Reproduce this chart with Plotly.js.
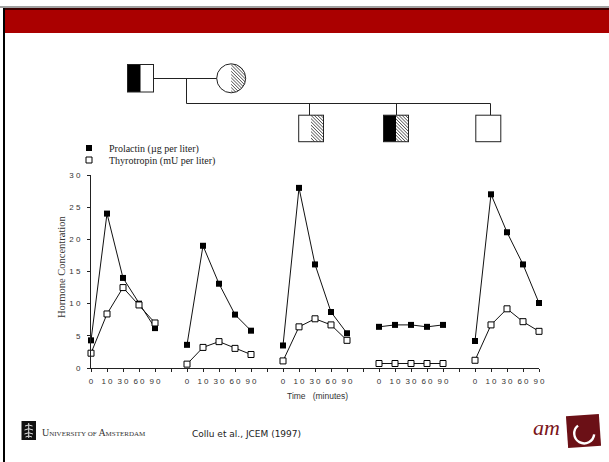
<!DOCTYPE html>
<html>
<head>
<meta charset="utf-8">
<script src="https://cdn.plot.ly/plotly-3.0.1.min.js"></script>
<style>html,body{margin:0;padding:0;background:#fff;}#chart{width:609px;height:462px;}</style>
</head>
<body>
<div id="chart"></div>
<script>
// ---- data ----
var timeLabels = ["0", "1 0", "3 0", "6 0", "9 0"];
var yTickLabels = ["0", "5", "1 0", "1 5", "2 0", "2 5", "3 0"];
var yTickValues = [0, 5, 10, 15, 20, 25, 30];
var prolactin1 = [4.3, 24.0, 14.0, 10.0, 6.2];
var prolactin2 = [3.6, 19.0, 13.1, 8.3, 5.8];
var prolactin3 = [3.5, 28.0, 16.1, 8.7, 5.4];
var prolactin4 = [6.4, 6.7, 6.7, 6.4, 6.7];
var prolactin5 = [4.2, 27.0, 21.1, 16.1, 10.1];
var thyrotropin1 = [2.3, 8.4, 12.5, 9.8, 7.0];
var thyrotropin2 = [0.6, 3.2, 4.1, 3.05, 2.1];
var thyrotropin3 = [1.1, 6.4, 7.65, 6.7, 4.3];
var thyrotropin4 = [0.7, 0.7, 0.7, 0.7, 0.7];
var thyrotropin5 = [1.2, 6.7, 9.2, 7.2, 5.7];
var seriesNames = ["Prolactin (\u00b5g per liter)", "Thyrotropin (mU per liter)"];

var prolactin = [prolactin1, prolactin2, prolactin3, prolactin4, prolactin5];
var thyrotropin = [thyrotropin1, thyrotropin2, thyrotropin3, thyrotropin4, thyrotropin5];

// ---- layout geometry ----
var W = 609, H = 462;
var M = {l: 91, r: 70, t: 175, b: 94};
var PW = W - M.l - M.r, PH = H - M.t - M.b;
function px(x) { return (x - M.l) / PW; }
function py(y) { return 1 - (y - M.t) / PH; }

var slot = timeLabels.length + 1;
var nSlots = prolactin.length * slot - 1;
var tickvals = [], ticktext = [];
for (var s = 0; s < nSlots; s++) {
  tickvals.push(s);
  var k = s % slot;
  ticktext.push(k < timeLabels.length ? timeLabels[k] : "");
}

var traces = [];
function panelX(p) { return timeLabels.map(function (_, i) { return p * slot + i; }); }
prolactin.forEach(function (vals, p) {
  traces.push({x: panelX(p), y: vals, mode: 'lines+markers', showlegend: false, cliponaxis: false,
    line: {color: '#111', width: 1}, marker: {symbol: 'square', size: 6, color: '#000'}, hoverinfo: 'skip'});
});
thyrotropin.forEach(function (vals, p) {
  traces.push({x: panelX(p), y: vals, mode: 'lines+markers', showlegend: false, cliponaxis: false,
    line: {color: '#111', width: 1}, marker: {symbol: 'square', size: 6, color: '#fff', line: {color: '#000', width: 1}}, hoverinfo: 'skip'});
});
traces.push({x: [null], y: [null], mode: 'markers', name: seriesNames[0], legend: 'legend',
  marker: {symbol: 'square', size: 6, color: '#000'}});
traces.push({x: [null], y: [null], mode: 'markers', name: seriesNames[1], legend: 'legend2',
  marker: {symbol: 'square', size: 6, color: '#fff', line: {color: '#000', width: 1}}});

// ---- slide decoration (frame, pedigree, logos) as SVG ----
var svg = '<svg xmlns="http://www.w3.org/2000/svg" width="609" height="462" viewBox="0 0 609 462">' +
 '<defs><pattern id="h" patternUnits="userSpaceOnUse" width="2.3" height="2.3" patternTransform="rotate(-45)">' +
 '<line x1="0" y1="0" x2="0" y2="2.3" stroke="#111" stroke-width="1.1"/></pattern></defs>' +
 '<rect x="0" y="6" width="609" height="2" fill="#a0a0a0"/>' +
 '<rect x="3" y="8" width="606" height="2.5" fill="#3a0000"/>' +
 '<rect x="3" y="10" width="606" height="23" fill="#aa0000"/>' +
 '<rect x="3" y="8" width="2" height="454" fill="#000"/>' +
 // pedigree
 '<g stroke="#222" stroke-width="1" fill="none">' +
 '<line x1="153.5" y1="78.5" x2="216.7" y2="78.5"/>' +
 '<line x1="186.5" y1="78.5" x2="186.5" y2="103.5"/>' +
 '<line x1="186.5" y1="103.5" x2="490.5" y2="103.5"/>' +
 '<line x1="309.5" y1="103.5" x2="309.5" y2="115"/>' +
 '<line x1="396.5" y1="103.5" x2="396.5" y2="115"/>' +
 '<line x1="490.5" y1="103.5" x2="490.5" y2="115"/>' +
 '</g>' +
 '<rect x="127.5" y="64.5" width="13" height="27.5" fill="#000"/>' +
 '<rect x="127.5" y="64.5" width="26" height="27.5" fill="none" stroke="#222" stroke-width="1"/>' +
 '<path d="M231.2 63.8 A14.5 14.5 0 0 1 231.2 92.8 Z" fill="url(#h)"/>' +
 '<circle cx="231.2" cy="78.3" r="14.5" fill="none" stroke="#222" stroke-width="1"/>' +
 '<rect x="311" y="115.2" width="12.5" height="26.5" fill="url(#h)"/>' +
 '<rect x="298.7" y="115.2" width="24.8" height="26.5" fill="none" stroke="#222" stroke-width="1"/>' +
 '<rect x="383.5" y="115.2" width="12.5" height="26.5" fill="#000"/>' +
 '<rect x="396" y="115.2" width="12.5" height="26.5" fill="url(#h)"/>' +
 '<rect x="383.5" y="115.2" width="25" height="26.5" fill="none" stroke="#222" stroke-width="1"/>' +
 '<rect x="475.8" y="115.2" width="25" height="26.5" fill="none" stroke="#222" stroke-width="1"/>' +
 // UvA logo mark
 '<rect x="21.5" y="421" width="14.5" height="19" fill="#111"/>' +
 '<g stroke="#ddd" stroke-width="1" fill="none">' +
 '<path d="M28.7 423 L28.7 438"/><path d="M25 426 Q28.7 424 32.5 426"/><path d="M24.5 430 Q28.7 427.5 33 430"/>' +
 '<path d="M24.5 434 Q28.7 431.5 33 434"/><path d="M25.5 437 Q28.7 435 32 437"/></g>' +
 // AMC logo square
 '<g transform="rotate(-4 583.5 431)"><rect x="567" y="415" width="33" height="32" fill="#6b1016"/>' +
 '<path d="M578.4 425.2 A10 10 0 1 0 593.9 435.2" fill="none" stroke="#fff" stroke-width="2.4"/></g>' +
 '</svg>';
var svgURI = 'data:image/svg+xml;charset=utf-8,' + encodeURIComponent(svg);

var tickFont = {family: '"Liberation Sans", Arial, sans-serif', size: 8, color: '#333'};
var serif = '"Liberation Serif", "Times New Roman", serif';

function note(text, x, y, xa, font, extra) {
  var a = {text: text, xref: 'paper', yref: 'paper', x: px(x), y: py(y), xanchor: xa, yanchor: 'middle',
    showarrow: false, font: font};
  if (extra) for (var key in extra) a[key] = extra[key];
  return a;
}

var layout = {
  width: W, height: H,
  margin: M,
  paper_bgcolor: '#fff', plot_bgcolor: 'rgba(0,0,0,0)',
  showlegend: true,
  xaxis: {range: [0, nSlots - 1], tickmode: 'array', tickvals: tickvals, ticktext: ticktext,
    ticks: 'outside', ticklen: 3, tickwidth: 1, tickcolor: '#222', showline: true, linecolor: '#222', linewidth: 1,
    showgrid: false, zeroline: false, tickfont: tickFont, ticklabelstandoff: 2, fixedrange: true},
  xaxis2: {overlaying: 'x', anchor: 'y', range: [0, nSlots - 1], tickmode: 'array', tickvals: tickvals,
    ticks: 'inside', ticklen: 3, tickwidth: 1, tickcolor: '#222', showticklabels: false, showline: false,
    showgrid: false, zeroline: false},
  yaxis: {range: [0, 30], tickmode: 'array', tickvals: yTickValues, ticktext: yTickLabels,
    ticks: 'outside', ticklen: 3, tickwidth: 1, tickcolor: '#222', showline: true, linecolor: '#222', linewidth: 1,
    showgrid: false, zeroline: false, tickfont: tickFont, ticklabelstandoff: 5, fixedrange: true},
  yaxis2: {overlaying: 'y', anchor: 'x', range: [0, 30], tickmode: 'array', tickvals: yTickValues,
    ticks: 'inside', ticklen: 3, tickwidth: 1, tickcolor: '#222', showticklabels: false, showline: false,
    showgrid: false, zeroline: false},
  legend: {x: px(69), y: py(148), xanchor: 'left', yanchor: 'middle', bgcolor: 'rgba(0,0,0,0)',
    font: {family: serif, size: 10, color: '#222'}, itemclick: false},
  legend2: {x: px(69), y: py(160), xanchor: 'left', yanchor: 'middle', bgcolor: 'rgba(0,0,0,0)',
    font: {family: serif, size: 10, color: '#222'}, itemclick: false},
  images: [{source: svgURI, xref: 'paper', yref: 'paper', x: px(0), y: py(0), sizex: W / PW, sizey: H / PH,
    xanchor: 'left', yanchor: 'top', sizing: 'stretch', layer: 'below'}],
  annotations: [
    note('Hormone Concentration', 61, 267, 'center', {family: serif, size: 10.5, color: '#333'}, {textangle: -90}),
    note('Time\u00a0\u00a0\u00a0(minutes)', 317, 396, 'center', {family: '"Liberation Sans", Arial, sans-serif', size: 8.5, color: '#333'}),
    note('U<span style="font-size:7px">NIVERSITY OF </span>A<span style="font-size:7px">MSTERDAM</span>', 40, 432, 'left',
      {family: serif, size: 10, color: '#333'}),
    note('Collu et al., JCEM (1997)', 190, 434, 'left', {family: '"DejaVu Sans", Verdana, sans-serif', size: 9, color: '#222'}),
    note('<i>am</i>', 546, 427, 'center', {family: serif, size: 22, color: '#7a1419'})
  ]
};

Plotly.newPlot('chart', traces, layout, {displayModeBar: false, staticPlot: true});
</script>
</body>
</html>
